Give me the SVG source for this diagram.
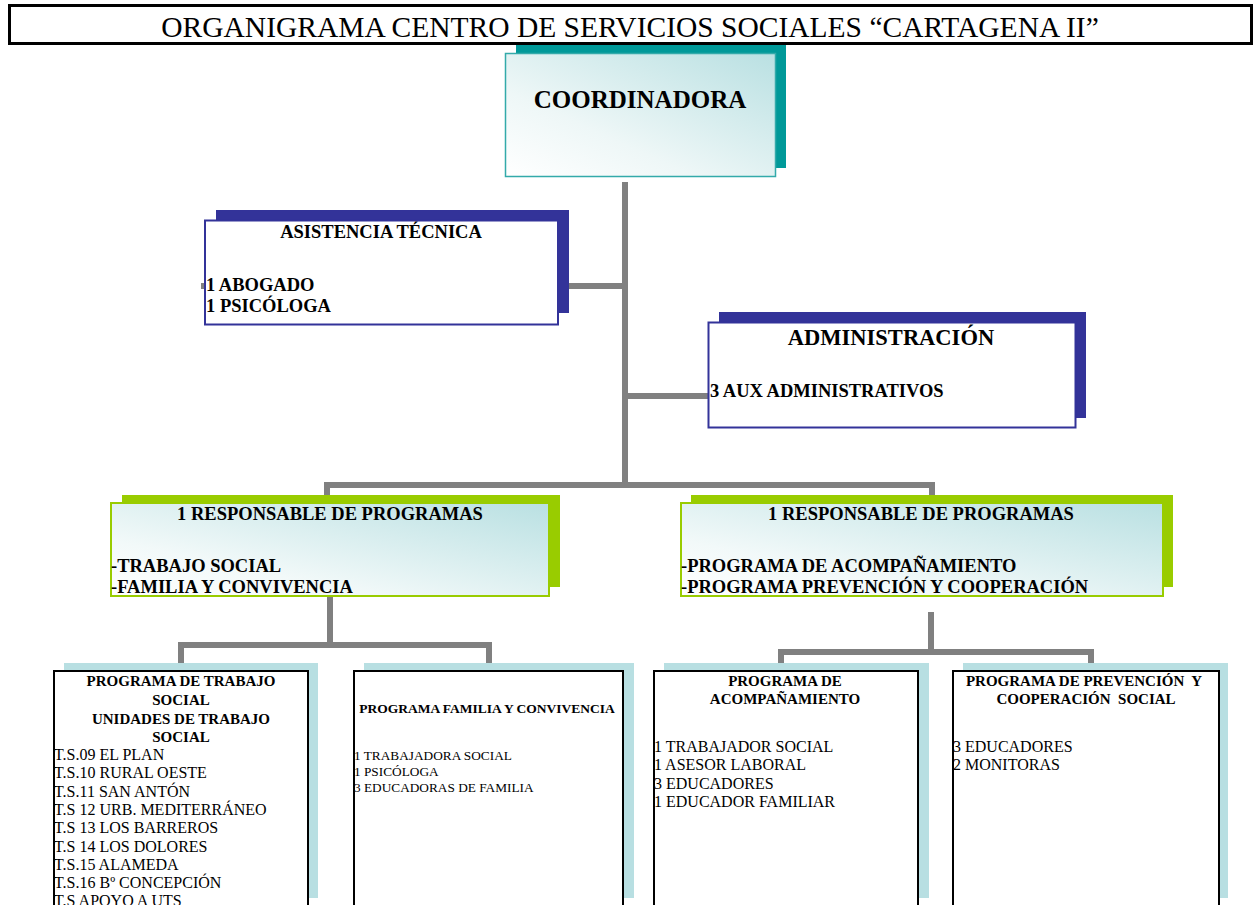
<svg xmlns="http://www.w3.org/2000/svg" width="1255" height="905" viewBox="0 0 1255 905">
<defs>
<linearGradient id="gTeal" x1="0" y1="1" x2="1" y2="0">
<stop offset="0" stop-color="#ffffff"/>
<stop offset="0.35" stop-color="#eef7f7"/>
<stop offset="1" stop-color="#b9e0e2"/>
</linearGradient>
<linearGradient id="gResp" x1="0" y1="1" x2="1" y2="0">
<stop offset="0" stop-color="#ffffff"/>
<stop offset="0.3" stop-color="#f2f9f9"/>
<stop offset="1" stop-color="#b9e0e2"/>
</linearGradient>
<style>
text{font-family:"Liberation Serif","Times New Roman",serif;fill:#000}
.b{font-weight:bold}
.c{text-anchor:middle}
.conn{fill:none;stroke:#808080;stroke-width:6;stroke-linejoin:miter;stroke-linecap:butt}
.shNavy{fill:#333399}
.boxNavy{fill:#ffffff;stroke:#333399;stroke-width:2}
.shGreen{fill:#99cc00}
.boxGreen{fill:url(#gResp);stroke:#99cc00;stroke-width:2}
.shBlue{fill:#b8dfe2}
.boxBlack{fill:#ffffff;stroke:#000;stroke-width:2}
.h15{font-size:15px;font-weight:bold}
.r16{font-size:16px}
.r13{font-size:13.3px}
</style>
</defs>
<rect width="1255" height="905" fill="#ffffff"/>

<g id="title">
<rect x="9.5" y="5.5" width="1242" height="38" fill="#ffffff" stroke="#000" stroke-width="3"/>
<text x="630" y="37" class="c" font-size="29.5">ORGANIGRAMA CENTRO DE SERVICIOS SOCIALES “CARTAGENA II”</text>
</g>

<g id="connectors">
<polyline class="conn" points="625,182 625,488"/>
<polyline class="conn" points="201,286 625,286"/>
<polyline class="conn" points="625,396 708,396"/>
<polyline class="conn" points="327,496 327,485 932,485 932,496"/>
<polyline class="conn" points="330,597 330,645"/>
<polyline class="conn" points="181,664 181,645 489,645 489,664"/>
<polyline class="conn" points="931,612 931,652"/>
<polyline class="conn" points="781,664 781,652 1091,652 1091,664"/>
</g>

<g id="coordinadora">
<rect x="516" y="45" width="270" height="123" fill="#009999"/>
<rect x="505.5" y="53.5" width="270" height="123" fill="url(#gTeal)" stroke="#33aaaa" stroke-width="1.5"/>
<text x="640" y="108" class="c b" font-size="25">COORDINADORA</text>
</g>

<g id="asistencia">
<rect x="216" y="210" width="353" height="103" class="shNavy"/>
<rect x="205" y="220.5" width="353" height="104" class="boxNavy"/>
<text x="381" y="238" class="c b" font-size="18.5">ASISTENCIA TÉCNICA</text>
<text x="206" y="291" class="b" font-size="18.5">1 ABOGADO</text>
<text x="206" y="312" class="b" font-size="18.5">1 PSICÓLOGA</text>
</g>

<g id="administracion">
<rect x="719" y="312" width="367" height="106" class="shNavy"/>
<rect x="708.5" y="322.5" width="367" height="105" class="boxNavy"/>
<text x="891" y="345" class="c b" font-size="22.5">ADMINISTRACIÓN</text>
<text x="710" y="397" class="b" font-size="18.5">3 AUX ADMINISTRATIVOS</text>
</g>

<g id="responsable1">
<rect x="122" y="495" width="438" height="92" class="shGreen"/>
<rect x="111" y="503" width="438" height="93" class="boxGreen"/>
<text x="330" y="520" class="c b" font-size="18.5">1 RESPONSABLE DE PROGRAMAS</text>
<text x="111" y="572" class="b" font-size="18.5">-TRABAJO SOCIAL</text>
<text x="111" y="593" class="b" font-size="18.5">-FAMILIA Y CONVIVENCIA</text>
</g>

<g id="responsable2">
<rect x="691" y="495" width="482" height="92" class="shGreen"/>
<rect x="681" y="503" width="482" height="93" class="boxGreen"/>
<text x="921" y="520" class="c b" font-size="18.5">1 RESPONSABLE DE PROGRAMAS</text>
<text x="681" y="572" class="b" font-size="18.5">-PROGRAMA DE ACOMPAÑAMIENTO</text>
<text x="681" y="593" class="b" font-size="18.5">-PROGRAMA PREVENCIÓN Y COOPERACIÓN</text>
</g>

<g id="programa-trabajo-social">
<rect x="64" y="663" width="254" height="235" class="shBlue"/>
<rect x="54" y="671" width="254" height="250" class="boxBlack"/>
<text x="181" y="686" class="c h15">PROGRAMA DE TRABAJO</text>
<text x="181" y="705" class="c h15">SOCIAL</text>
<text x="181" y="724" class="c h15">UNIDADES DE TRABAJO</text>
<text x="181" y="742" class="c h15">SOCIAL</text>
<text x="54" y="760" class="r16">T.S.09 EL PLAN</text>
<text x="54" y="778.3" class="r16">T.S.10 RURAL OESTE</text>
<text x="54" y="796.6" class="r16">T.S.11 SAN ANTÓN</text>
<text x="54" y="814.9" class="r16">T.S 12 URB. MEDITERRÁNEO</text>
<text x="54" y="833.2" class="r16">T.S 13 LOS BARREROS</text>
<text x="54" y="851.5" class="r16">T.S 14 LOS DOLORES</text>
<text x="54" y="869.8" class="r16">T.S.15 ALAMEDA</text>
<text x="54" y="888.1" class="r16">T.S.16 Bº CONCEPCIÓN</text>
<text x="54" y="906.4" class="r16">T.S APOYO A UTS</text>
</g>

<g id="programa-familia">
<rect x="364" y="663" width="270" height="235" class="shBlue"/>
<rect x="354" y="671" width="269" height="250" class="boxBlack"/>
<text x="487" y="713" class="c b" font-size="13.5">PROGRAMA FAMILIA Y CONVIVENCIA</text>
<text x="354" y="760" class="r13">1 TRABAJADORA SOCIAL</text>
<text x="354" y="776" class="r13">1 PSICÓLOGA</text>
<text x="354" y="792" class="r13">3 EDUCADORAS DE FAMILIA</text>
</g>

<g id="programa-acompanamiento">
<rect x="664" y="663" width="265" height="235" class="shBlue"/>
<rect x="654" y="671" width="264" height="250" class="boxBlack"/>
<text x="785" y="686" class="c h15">PROGRAMA DE</text>
<text x="785" y="704" class="c h15">ACOMPAÑAMIENTO</text>
<text x="654" y="752" class="r16">1 TRABAJADOR SOCIAL</text>
<text x="654" y="770.3" class="r16">1 ASESOR LABORAL</text>
<text x="654" y="788.6" class="r16">3 EDUCADORES</text>
<text x="654" y="806.9" class="r16">1 EDUCADOR FAMILIAR</text>
</g>

<g id="programa-prevencion">
<rect x="963" y="663" width="265" height="235" class="shBlue"/>
<rect x="953" y="671" width="266" height="250" class="boxBlack"/>
<text x="1084" y="686" class="c h15" xml:space="preserve">PROGRAMA DE PREVENCIÓN  Y</text>
<text x="1086" y="704" class="c h15" xml:space="preserve">COOPERACIÓN  SOCIAL</text>
<text x="953" y="752" class="r16">3 EDUCADORES</text>
<text x="953" y="770.3" class="r16">2 MONITORAS</text>
</g>
</svg>
